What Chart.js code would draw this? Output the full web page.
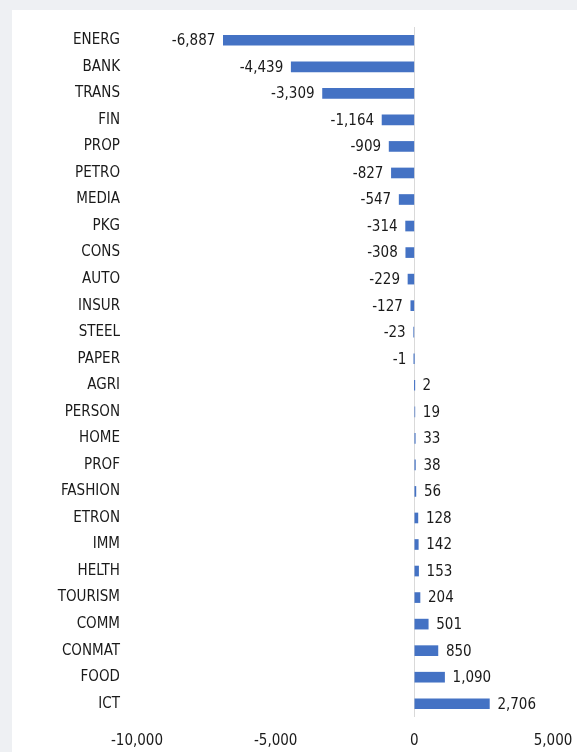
<!DOCTYPE html>
<html>
<head>
<meta charset="utf-8">
<script src="https://cdn.jsdelivr.net/npm/chart.js@4"></script>
<style>
  html, body { margin: 0; padding: 0; background: #eef0f3; }
  #box { position: absolute; left: 12px; top: 10px; width: 565px; height: 742px; background: #fff; }
</style>
</head>
<body>
<div id="box"><canvas id="c" width="565" height="742"></canvas></div>
<script>
// Sectores y valores
const sectores = ["ENERG", "BANK", "TRANS", "FIN", "PROP", "PETRO", "MEDIA", "PKG", "CONS", "AUTO",
  "INSUR", "STEEL", "PAPER", "AGRI", "PERSON", "HOME", "PROF", "FASHION", "ETRON", "IMM",
  "HELTH", "TOURISM", "COMM", "CONMAT", "FOOD", "ICT"];
const valores = [-6887, -4439, -3309, -1164, -909, -827, -547, -314, -308, -229,
  -127, -23, -1, 2, 19, 33, 38, 56, 128, 142,
  153, 204, 501, 850, 1090, 2706];
const ticksX = [-10000, -5000, 0, 5000];

const fuente = '"DejaVu Sans Condensed", "DejaVu Sans", sans-serif';
const fmt = v => v.toLocaleString('en-US');

// etiquetas de valor al final de cada barra
const etiquetas = {
  id: 'etiquetas',
  afterDatasetsDraw(chart) {
    const ctx = chart.ctx;
    const meta = chart.getDatasetMeta(0);
    ctx.save();
    ctx.font = '15px ' + fuente;
    ctx.fillStyle = '#1a1a1a';
    ctx.textBaseline = 'middle';
    meta.data.forEach((bar, i) => {
      const v = valores[i];
      if (v < 0) {
        ctx.textAlign = 'right';
        ctx.fillText(fmt(v), bar.x - 8, bar.y + 1);
      } else {
        ctx.textAlign = 'left';
        ctx.fillText(fmt(v), bar.x + 8, bar.y + 1);
      }
    });
    ctx.restore();
  }
};

new Chart(document.getElementById('c'), {
  type: 'bar',
  data: {
    labels: sectores,
    datasets: [{
      data: valores,
      backgroundColor: '#4472c4',
      barThickness: 10
    }]
  },
  options: {
    indexAxis: 'y',
    responsive: false,
    animation: false,
    layout: { padding: { top: 17, right: 24, left: 0, bottom: 0 } },
    plugins: {
      legend: { display: false },
      tooltip: { enabled: false }
    },
    scales: {
      x: {
        min: -10000,
        max: 5000,
        afterBuildTicks: s => { s.ticks = ticksX.map(v => ({ value: v })); },
        afterFit: s => { s.height = 35; s.paddingLeft = 0; s.paddingRight = 0; },
        border: { display: false },
        grid: {
          drawTicks: false,
          color: c => (c.tick && c.tick.value === 0) ? '#d9d9d9' : 'rgba(0,0,0,0)'
        },
        ticks: {
          padding: 15,
          maxRotation: 0,
          color: '#1a1a1a',
          font: { family: fuente, size: 15 },
          callback: v => fmt(v)
        }
      },
      y: {
        afterFit: s => { s.width = 125; s.paddingTop = 0; s.paddingBottom = 0; },
        border: { display: false },
        grid: { display: false, drawTicks: false },
        ticks: {
          padding: 17,
          autoSkip: false,
          color: '#1a1a1a',
          font: { family: fuente, size: 15 }
        }
      }
    }
  },
  plugins: [etiquetas]
});
</script>
</body>
</html>
